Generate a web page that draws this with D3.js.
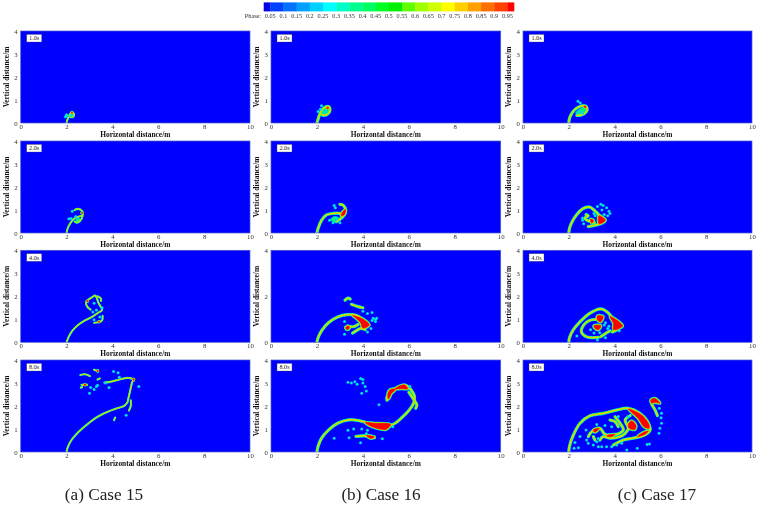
<!DOCTYPE html>
<html><head><meta charset="utf-8">
<script src="https://cdn.jsdelivr.net/npm/d3@7"></script>
<style>html,body{margin:0;padding:0;background:#fff}svg{display:block}text{font-family:"Liberation Serif",serif}</style>
</head><body><svg id="c" width="758" height="505"></svg>
<script>
// ---- legend ----
const phaseLevels=[0.05,0.1,0.15,0.2,0.25,0.3,0.35,0.4,0.45,0.5,0.55,0.6,0.65,0.7,0.75,0.8,0.85,0.9,0.95];
const phaseColors=["#0000e8","#0040ff","#0070ff","#00a0ff","#00d0ff","#00ffff","#00ffc8","#00ff90","#00ff60","#00ff20","#00f000","#60ff00","#a0ff00","#d0ff00","#ffff00","#ffd000","#ffa000","#ff7000","#ff4000","#ff0000"];
const xTicks=[0,2,4,6,8,10];
const yTicks=[0,1,2,3,4];
const yTicksSparse=[0,2,4];
const caseNames=["(a) Case 15","(b) Case 16","(c) Case 17"];
const timeLabels=["1.0s","2.0s","4.0s","8.0s"];

// ---- case 15 ----
const c15t1Lines=[[[2,0],[2.03,.12],[2.08,.25],[2.15,.38],[2.22,.47],[2.3,.43],[2.32,.32],[2.25,.25],[2.15,.27]]];
const c15t1Cores=[[[2.2,.46],[2.26,.46],[2.24,.41]]];
const c15t1Pools=[[[2.1,.3],[2.2,.45],[2.3,.4],[2.25,.25]]];
const c15t1Drops=[[1.95,.27],[2.03,.3],[2.0,.36],[2.2,.33]];
const c15t2Lines=[[[2,0],[2.05,.2],[2.15,.4],[2.3,.6],[2.5,.7],[2.65,.75]],[[2.35,1.0],[2.5,1.05],[2.68,.95],[2.7,.75],[2.6,.55],[2.45,.45],[2.35,.5]]];
const c15t2Cores=[[[2.64,.87],[2.7,.9],[2.69,.83]]];
const c15t2Pools=[[[2.4,.55],[2.55,.65],[2.62,.5],[2.45,.45]]];
const c15t2Drops=[[2.1,.62],[2.2,.63],[2.25,.95],[2.4,.72]];
const c15t4Lines=[[[2,0],[2.1,.25],[2.25,.5],[2.5,.75],[2.8,.95],[3.1,1.1],[3.4,1.3],[3.55,1.4],[3.4,1.7],[3.25,2.03],[3.1,1.95],[2.85,1.75],[2.9,1.55],[3.05,1.42]],[[3.35,2.0],[3.5,1.9],[3.5,1.8]],[[3.57,1.15],[3.55,.95],[3.4,.87],[3.2,.85]]];
const c15t4Cores=[[[2.87,1.78],[2.93,1.84],[2.94,1.77]],[[3.37,.9],[3.43,.92],[3.42,.86]]];
const c15t4Pools=[];
const c15t4Drops=[[3.55,1.5],[3.2,1.7],[3.3,1.4],[3.15,1.32],[3.2,.98],[3.45,1.1]];
const c15t8Lines=[[[2,0],[2.05,.2],[2.2,.5],[2.5,.85],[2.9,1.2],[3.3,1.5],[3.8,1.75],[4.2,1.9],[4.5,2],[4.65,2.15],[4.7,2.35],[4.77,2.65],[4.85,3],[4.9,3.15],[4.7,3.22],[4.3,3.15],[3.9,3.05],[3.65,3.02]],[[4.8,2.25],[4.8,2],[4.72,1.8]],[[2.6,3.35],[2.8,3.38],[3.02,3.3]],[[3.2,3.58],[3.35,3.52]],[[3.35,3.15],[3.45,3.2]],[[2.65,2.92],[2.9,2.92]],[[2.62,2.8],[2.68,2.82]],[[4.07,1.38],[4.12,1.5]]];
const c15t8Cores=[[[3.32,3.55],[3.38,3.55],[3.37,3.48]],[[4.89,3.18],[4.95,3.18],[4.94,3.1]],[[2.75,2.94],[2.85,2.94],[2.82,2.89]]];
const c15t8Pools=[];
const c15t8Drops=[[4.05,3.5],[4.25,3.45],[4.3,3.25],[3.7,3.0],[3.85,2.8],[3.0,2.55],[3.2,2.72],[3.05,2.8],[3.35,2.9],[5.15,2.85],[4.6,1.6],[3.3,2.85]];

// ---- case 16 ----
const c16t1Lines=[[[2,0],[2.06,.2],[2.15,.45],[2.3,.65],[2.5,.72],[2.57,.6],[2.5,.42],[2.3,.33],[2.15,.4]]];
const c16t1Cores=[[[2.42,.67],[2.5,.68],[2.48,.6]]];
const c16t1Pools=[[[2.15,.42],[2.3,.62],[2.5,.68],[2.55,.55],[2.4,.36],[2.22,.33]]];
const c16t1Drops=[[2.05,.5],[2.2,.75],[2.15,.6],[2.38,.5]];
const c16t2Lines=[[[2,0],[2.05,.2],[2.2,.55],[2.4,.78],[2.7,.85],[3,.85],[3.15,.78]],[[3,1.25],[3.15,1.2],[3.25,1],[3.2,.8],[3,.6],[2.85,.5]]];
const c16t2Cores=[[[3.1,.9],[3.25,1.02],[3.2,.8],[3.06,.75]]];
const c16t2Pools=[[[2.6,.6],[2.8,.72],[3,.6],[2.85,.45],[2.7,.48]]];
const c16t2Drops=[[2.75,1.2],[2.8,1.1],[2.55,.55],[2.7,.45],[3,.45],[2.85,.6]];
const c16t4Lines=[[[2,0],[2.05,.2],[2.2,.5],[2.5,.85],[2.9,1.1],[3.3,1.2],[3.7,1.18],[4,1.0],[4.2,.8]],[[3.22,1.83],[3.35,1.92],[3.45,1.88]],[[3.5,1.65],[3.8,1.55],[4,1.5]],[[3.25,.65],[3.4,.68],[3.6,.68],[3.8,.78]],[[3.55,.4],[3.7,.5],[3.9,.6],[4.1,.55]]];
const c16t4Cores=[[[3.55,1.16],[3.8,1.1],[4.1,.95],[4.28,.75],[4.0,.62],[3.9,.85],[3.7,1.05]],[[3.25,.62],[3.35,.72],[3.42,.62],[3.32,.55]]];
const c16t4Pools=[];
const c16t4Drops=[[4.4,1.3],[4.2,1.25],[4.45,1.05],[4.55,1.0],[4.4,.95],[4.6,1.05],[4.35,.6],[4.2,.45],[3.2,.35],[3.2,.9],[4.55,.9],[4.0,1.35]];
const c16t8Lines=[[[2,0],[2.05,.25],[2.2,.6],[2.5,.95],[2.9,1.25],[3.4,1.4],[3.9,1.35],[4.4,1.2],[4.9,1.05],[5.4,1.25],[5.7,1.5],[6,1.8],[6.2,2.1],[6.25,2.4],[6.1,2.7],[5.85,2.9],[5.5,2.8],[5.2,2.65],[5.05,2.4],[5.05,2.25]],[[6,2.6],[6.2,2.3],[6.35,2.05],[6.3,1.9]],[[3.7,.68],[4.1,.7],[4.5,.62]]];
const c16t8Cores=[[[4.1,1.28],[4.5,1.25],[5.2,1.2],[5.0,.98],[4.75,1.0],[4.4,1.1]],[[5.08,2.5],[5.2,2.72],[5.42,2.72],[5.25,2.55],[5.12,2.3]],[[5.4,2.75],[5.8,2.92],[5.95,2.75],[5.7,2.75]],[[4.15,.72],[4.5,.66],[4.35,.59]]];
const c16t8Pools=[];
const c16t8Drops=[[3.35,3.03],[3.5,3.0],[3.65,3.05],[3.75,2.95],[3.9,3.2],[4,3.15],[4.0,3.0],[4.1,2.85],[4.15,2.65],[3.95,2.55],[4.7,2.05],[6.05,2.85],[3.35,.95],[3.6,1.0],[3.95,1.0],[4.2,.95],[4.15,.8],[2.75,.6],[3.4,.62],[4.85,.58],[3.9,.4],[5.3,1.1]];

// ---- case 17 ----
const c17t1Lines=[[[2,0],[2.03,.2],[2.15,.45],[2.35,.65],[2.6,.75],[2.77,.7],[2.77,.5],[2.55,.35],[2.35,.33]]];
const c17t1Cores=[[[2.66,.74],[2.75,.72],[2.72,.65]]];
const c17t1Pools=[[[2.3,.42],[2.5,.62],[2.7,.68],[2.72,.52],[2.5,.37]]];
const c17t1Drops=[[2.4,.95],[2.5,.87],[2.45,.5],[2.6,.45]];
const c17t2Lines=[[[2,0],[2.03,.2],[2.15,.5],[2.35,.8],[2.6,1.05],[2.9,1.13],[3.1,1.0],[3.3,.8],[3.5,.62],[3.45,.45],[3.2,.35],[2.85,.28]],[[2.75,.8],[2.85,.75],[2.7,.65],[2.8,.55],[2.95,.5],[3.12,.45]]];
const c17t2Cores=[[[3.32,.75],[3.6,.55],[3.32,.4]],[[2.95,.6],[3.08,.55],[3,.42]]];
const c17t2Pools=[];
const c17t2Drops=[[3.4,1.25],[3.5,1.2],[3.25,1.15],[3.65,1.1],[3.45,1.0],[3.75,.95],[3.8,.85],[3.7,.75],[3.55,.8],[2.6,.65],[2.6,.55],[2.65,.4],[3.15,.75],[3.1,.85]];
const c17t4Lines=[[[2,0],[2.03,.2],[2.2,.55],[2.5,.9],[2.9,1.25],[3.4,1.45],[3.7,1.3],[4,.95],[4.25,.75],[4.1,.55],[3.9,.45]],[[3.3,.22],[3.0,.2],[2.75,.25],[2.55,.45],[2.65,.75],[2.9,.95],[3.2,1.0]],[[3.4,.25],[3.6,.38],[3.8,.5]]];
const c17t4Cores=[[[3.8,1.12],[4.35,.72],[3.95,.55],[3.95,.82]],[[3.25,1.15],[3.5,1.12],[3.38,.88],[3.25,.98]],[[3.1,.72],[3.4,.72],[3.3,.55],[3.15,.6]]];
const c17t4Pools=[];
const c17t4Drops=[[2.35,.27],[3.55,.75],[3.6,.85],[2.95,.55],[3.75,.7],[3.1,.4],[3.6,.2],[3.25,.1],[4.2,.5],[3.7,.6],[3.35,.42]];
const c17t8Lines=[[[2,0],[2.03,.25],[2.2,.74],[2.49,1.25],[2.93,1.58],[3.51,1.68],[4.1,1.83],[4.6,1.9],[5.1,1.68],[5.47,1.25],[5.55,.95],[5.25,.71],[4.8,.6],[4.38,.52],[3.94,.3]],[[5.62,2.07],[5.77,1.82],[5.87,1.58]],[[2.85,.67],[3.0,.88],[3.36,1.03],[3.58,.77],[4.09,.77],[4.38,.96],[4.24,1.25],[4.02,1.53]],[[3.36,.52],[3.5,.67],[3.8,.6],[4.24,.67],[4.46,.81],[4.6,1.03],[4.46,1.39],[4.68,1.58]],[[3.07,.67],[3.14,.52]],[[3.8,1.39],[4.02,1.32],[4.16,1.1]]];
const c17t8Cores=[[[4.6,1.87],[5.18,1.61],[5.51,1.17],[5.5,1.03],[5.28,1.1],[5.03,1.46]],[[4.6,1.2],[4.74,1.35],[4.93,1.17],[4.89,.98],[4.64,1.03]],[[4.99,.67],[5.33,.77],[5.47,.91],[5.25,.85]],[[3.65,.71],[4.02,.77],[3.85,.66]],[[3.07,.96],[3.33,1.03],[3.14,.86]],[[5.58,2.26],[5.76,2.33],[5.98,2.12],[5.76,2.16],[5.62,2.12]]];
const c17t8Pools=[];
const c17t8Drops=[[5.95,1.9],[6.05,1.68],[6.03,1.49],[6.05,1.25],[5.98,1.03],[5.94,.81],[5.52,.35],[4.99,.16],[4.53,.09],[2.75,.96],[2.49,.67],[2.27,.41],[2.42,.19],[2.23,.16],[3.22,1.2],[3.58,1.15],[3.87,1.1],[4.16,1.54],[4.6,1.54],[3.44,.23],[3.29,.23],[3.07,.3],[3.22,.45],[3.65,.23],[3.87,.23],[4.09,.3],[4.31,.38],[2.85,.38],[2.78,.52],[3.29,.59],[5.42,.33]];

// ---- table built from the arrays above ----
const panels=[
 [c15t1Lines,c15t1Cores,c15t1Pools,c15t1Drops,0,0],[c15t2Lines,c15t2Cores,c15t2Pools,c15t2Drops,0,1],[c15t4Lines,c15t4Cores,c15t4Pools,c15t4Drops,0,2],[c15t8Lines,c15t8Cores,c15t8Pools,c15t8Drops,0,3],
 [c16t1Lines,c16t1Cores,c16t1Pools,c16t1Drops,1,0],[c16t2Lines,c16t2Cores,c16t2Pools,c16t2Drops,1,1],[c16t4Lines,c16t4Cores,c16t4Pools,c16t4Drops,1,2],[c16t8Lines,c16t8Cores,c16t8Pools,c16t8Drops,1,3],
 [c17t1Lines,c17t1Cores,c17t1Pools,c17t1Drops,2,0],[c17t2Lines,c17t2Cores,c17t2Pools,c17t2Drops,2,1],[c17t4Lines,c17t4Cores,c17t4Pools,c17t4Drops,2,2],[c17t8Lines,c17t8Cores,c17t8Pools,c17t8Drops,2,3]
].map(([lines,cores,pools,drops,col,row])=>({lines,cores,pools,drops,col,row}));

// ---- layout and style ----
const svg=d3.select("#c");
const defs=svg.append("defs");
defs.append("filter").attr("id","soft").attr("x","-5%").attr("y","-5%").attr("width","110%").attr("height","110%")
  .append("feGaussianBlur").attr("stdDeviation",0.55);
defs.append("filter").attr("id","softText").attr("x","-5%").attr("y","-20%").attr("width","110%").attr("height","140%")
  .append("feGaussianBlur").attr("stdDeviation",0.25);

const colX=[[20.7,250],[271,500.7],[523,752]];
const rowY=[[31,123],[141,233],[250.3,342.3],[360,452]];
const yLabelX=[6,256,508];
const captionX=[104,381,657];
// nested contour bands of a filament, outermost first: colour and share of full width
const bands=[["#00c0ff",1],["#00ff90",.8],["#90ff00",.56],["#ffc000",.3]];
const lineWidth=[2.1,3.2,3.2];

// colour bar
const bar=svg.append("g");
const barX=d3.scaleLinear().domain([0.025,0.975]).range([263.7,514]);
const edges=[0.025,...phaseLevels,0.975];
bar.append("g").attr("filter","url(#soft)").selectAll("rect").data(phaseColors).join("rect")
  .attr("x",(d,i)=>barX(edges[i])).attr("width",(d,i)=>barX(edges[i+1])-barX(edges[i])+.3)
  .attr("y",2.4).attr("height",9).attr("fill",d=>d);
const barText=bar.append("g").attr("filter","url(#softText)").attr("font-size",6.2).attr("fill","#333");
barText.selectAll("text").data(phaseLevels).join("text")
  .attr("x",d=>barX(d)).attr("y",18.3).attr("text-anchor","middle").text(d=>d);
barText.append("text").attr("x",261).attr("y",18.3).attr("text-anchor","end").text("Phase:");

// panels
const lineGen=d3.line().curve(d3.curveCatmullRom.alpha(.5));
const closedGen=d3.line().curve(d3.curveCatmullRomClosed.alpha(.5));
panels.forEach((p,idx)=>{
  const [x0,x1]=colX[p.col],[y0,y1]=rowY[p.row];
  const x=d3.scaleLinear().domain([0,10]).range([x0,x1]);
  const y=d3.scaleLinear().domain([0,4]).range([y1,y0]);
  const toPx=pts=>pts.map(d=>[x(d[0]),y(d[1])]);
  const g=svg.append("g");
  const clip="clip"+idx;
  defs.append("clipPath").attr("id",clip).append("rect").attr("x",x0).attr("y",y0).attr("width",x1-x0).attr("height",y1-y0);
  const plot=g.append("g").attr("clip-path",`url(#${clip})`).append("g").attr("filter","url(#soft)");
  plot.append("rect").attr("x",x0-2).attr("y",y0-2).attr("width",x1-x0+4).attr("height",y1-y0+4).attr("fill","#0000ff");
  const w=lineWidth[p.col];
  // pools: wide shallow regions
  plot.selectAll(".pool").data(p.pools).join("path").attr("class","pool")
    .attr("d",d=>closedGen(toPx(d))).attr("fill","#00ff60").attr("stroke","#00c8ff").attr("stroke-width",1);
  // filament and core contours, one band at a time so that they merge like a field
  bands.forEach(([col,f])=>{
    const layer=plot.append("g").attr("fill","none").attr("stroke",col).attr("stroke-linecap","round").attr("stroke-linejoin","round");
    layer.selectAll(".l").data(p.lines).join("path").attr("class","l").attr("d",d=>lineGen(toPx(d))).attr("stroke-width",w*f);
    layer.selectAll(".c").data(p.cores).join("path").attr("class","c").attr("d",d=>closedGen(toPx(d))).attr("stroke-width",w*f);
  });
  plot.selectAll(".core").data(p.cores).join("path").attr("class","core")
    .attr("d",d=>closedGen(toPx(d))).attr("fill","#ff0000").attr("stroke","#ff0000").attr("stroke-width",.5);
  // droplets
  plot.selectAll(".d1").data(p.drops).join("circle").attr("class","d1").attr("cx",d=>x(d[0])).attr("cy",d=>y(d[1])).attr("r",1.5).attr("fill","#00c8ff");
  plot.selectAll(".d2").data(p.drops).join("circle").attr("class","d2").attr("cx",d=>x(d[0])).attr("cy",d=>y(d[1])).attr("r",.8).attr("fill","#00ffb0");
  // frame
  g.append("rect").attr("x",x0).attr("y",y0).attr("width",x1-x0).attr("height",y1-y0).attr("fill","none").attr("stroke","#4a62c8").attr("stroke-width",.7);
  // axes
  const sparse=p.col===1&&p.row===2;
  const axB=d3.axisBottom(x).tickValues(xTicks).tickSize(0).tickPadding(1).tickFormat(d3.format("d"));
  const axL=d3.axisLeft(y).tickValues(sparse?yTicksSparse:yTicks).tickSize(0).tickPadding(3).tickFormat(d3.format("d"));
  const ta=g.append("g").attr("filter","url(#softText)");
  [ta.append("g").attr("transform",`translate(0,${y1})`).call(axB),ta.append("g").attr("transform",`translate(${x0},0)`).call(axL)].forEach(a=>{
    a.select(".domain").remove();
    a.selectAll("text").attr("font-size",6.8).attr("fill","#333").attr("font-family","Liberation Serif");
  });
  ta.append("text").attr("x",(x0+x1)/2).attr("y",y1+14).attr("text-anchor","middle").attr("font-size",7.4).attr("font-weight","bold").attr("fill","#111").text("Horizontal distance/m");
  ta.append("text").attr("transform",`translate(${yLabelX[p.col]+2.5},${(y0+y1)/2}) rotate(-90)`).attr("text-anchor","middle").attr("font-size",7.4).attr("font-weight","bold").attr("fill","#111").text("Vertical distance/m");
  // time stamp (absent on one panel of the reference)
  if(!sparse){
    const stamp=g.append("g");
    stamp.append("rect").attr("x",x0+6).attr("y",y0+3.4).attr("width",15).attr("height",7.6).attr("fill","#fff").attr("stroke","#444").attr("stroke-width",.35);
    stamp.append("text").attr("x",x0+13.5).attr("y",y0+9.4).attr("text-anchor","middle").attr("font-size",6.2).attr("fill","#222").text(timeLabels[p.row]);
  }
});
// captions
svg.append("g").attr("font-size",17.2).attr("fill","#222").selectAll("text").data(caseNames).join("text")
  .attr("x",(d,i)=>captionX[i]).attr("y",500).attr("text-anchor","middle").text(d=>d);
</script></body></html>
